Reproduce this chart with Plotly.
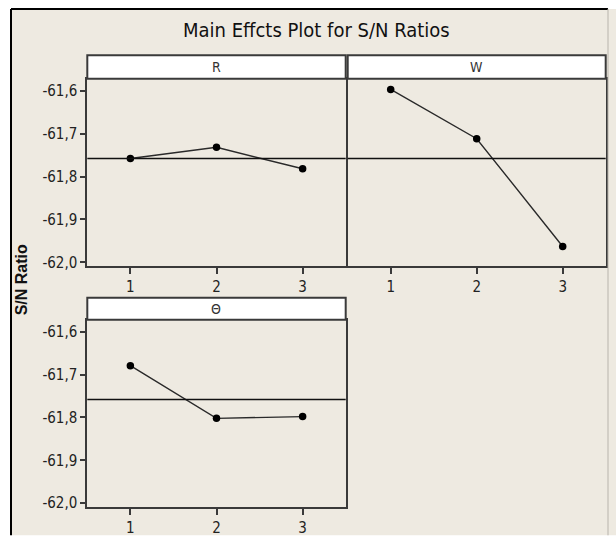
import plotly.graph_objects as go

# ---- data ----
levels = [1, 2, 3]
r_values = [-61.758, -61.732, -61.782]
w_values = [-61.597, -61.712, -61.963]
theta_values = [-61.679, -61.802, -61.798]
panel_names = ["R", "W", "Θ"]
y_tickvals = [-62.0, -61.9, -61.8, -61.7, -61.6]
y_ticktext = ["-62,0", "-61,9", "-61,8", "-61,7", "-61,6"]
x_ticktext = ["1", "2", "3"]

series = [r_values, w_values, theta_values]
all_vals = r_values + w_values + theta_values
grand_mean = sum(all_vals) / len(all_vals)

W, H = 616, 537
def px(x):
    return x / W
def py(y):
    return 1 - y / H

BG = "#EEEAE1"
FRAME = "#3a3a3a"
FONT = "Liberation Sans Narrow, DejaVu Sans Condensed, Arial Narrow, sans-serif"

# panel geometry (pixels): (x0, x1, plot_top, plot_bottom, header_top)
panels = [
    (87.3, 345.7, 79.7, 269.3, 56.0),
    (347.7, 605.7, 79.7, 269.3, 56.0),
    (87.3, 345.7, 324.0, 513.3, 301.7),
]

fig = go.Figure()
layout = dict(
    width=W, height=H,
    margin=dict(l=0, r=0, t=0, b=0),
    paper_bgcolor="white",
    plot_bgcolor="white",
    showlegend=False,
    font=dict(family=FONT, size=15, color="#222222"),
)
shapes = []
annotations = []

# background panel (beige) and outer frame
shapes.append(dict(type="rect", xref="paper", yref="paper", x0=px(11), x1=1.01, y0=-0.01, y1=py(9),
                   fillcolor=BG, line=dict(width=0), layer="below"))
shapes.append(dict(type="line", xref="paper", yref="paper", x0=px(11), x1=px(11), y0=-0.01, y1=py(9),
                   line=dict(color="black", width=2)))
shapes.append(dict(type="line", xref="paper", yref="paper", x0=px(11), x1=px(608), y0=py(9), y1=py(9),
                   line=dict(color="black", width=2)))
shapes.append(dict(type="line", xref="paper", yref="paper", x0=px(608), x1=px(608), y0=-0.01, y1=py(9),
                   line=dict(color="#b8b4ac", width=1)))

for i, (vals, name, geo) in enumerate(zip(series, panel_names, panels)):
    x0, x1, ptop, pbot, htop = geo
    n = "" if i == 0 else str(i + 1)
    xa, ya = "x" + n, "y" + n
    fig.add_trace(go.Scatter(
        x=levels, y=vals, xaxis=xa, yaxis=ya, mode="lines+markers",
        line=dict(color="#2a2a2a", width=1.4),
        marker=dict(color="black", size=7.5),
        hoverinfo="skip",
    ))
    show_y = (i != 1)
    layout["xaxis" + n] = dict(
        domain=[px(x0), px(x1)], anchor=ya, range=[0.5, 3.5],
        tickvals=levels, ticktext=x_ticktext, ticks="outside", ticklen=6, tickwidth=1.5,
        tickcolor=FRAME, showgrid=False, zeroline=False,
        showline=True, linecolor=FRAME, linewidth=2, mirror=True,
        tickfont=dict(family=FONT, size=15, color="#222222"),
    )
    layout["yaxis" + n] = dict(
        domain=[py(pbot), py(ptop)], anchor=xa, range=[-62.008, -61.572],
        tickvals=y_tickvals, ticktext=y_ticktext,
        ticks="outside" if show_y else "", ticklen=5, tickwidth=1.5, tickcolor=FRAME,
        showticklabels=show_y, showgrid=False, zeroline=False,
        showline=True, linecolor=FRAME, linewidth=2, mirror=True,
        tickfont=dict(family=FONT, size=15, color="#222222"),
    )
    # mean reference line
    shapes.append(dict(type="line", xref=xa + " domain", yref=ya, x0=0, x1=1,
                       y0=grand_mean, y1=grand_mean, line=dict(color="#111111", width=1.6)))
    # header strip
    shapes.append(dict(type="rect", xref="paper", yref="paper",
                       x0=px(x0), x1=px(x1), y0=py(ptop), y1=py(htop),
                       fillcolor="white", line=dict(color=FRAME, width=2)))
    annotations.append(dict(xref="paper", yref="paper", x=(px(x0) + px(x1)) / 2,
                            y=(py(ptop) + py(htop)) / 2, text=name, showarrow=False,
                            xanchor="center", yanchor="middle",
                            font=dict(family=FONT, size=14, color="#333333")))

# title
annotations.append(dict(xref="paper", yref="paper", x=px(316), y=py(30), text="Main Effcts Plot for S/N Ratios",
                        showarrow=False, xanchor="center", yanchor="middle",
                        font=dict(family=FONT, size=20, color="#111111")))
# y-axis title
annotations.append(dict(xref="paper", yref="paper", x=px(21), y=py(284), text="<b>S/N Ratio</b>",
                        textangle=-90, showarrow=False, xanchor="center", yanchor="middle",
                        font=dict(family="Liberation Sans, Arial, sans-serif", size=16, color="#111111")))

layout["shapes"] = shapes
layout["annotations"] = annotations
fig.update_layout(**layout)
fig.write_html("out.html", config={"displayModeBar": False},
               post_script="document.body.style.margin='0';document.body.style.padding='0';")
